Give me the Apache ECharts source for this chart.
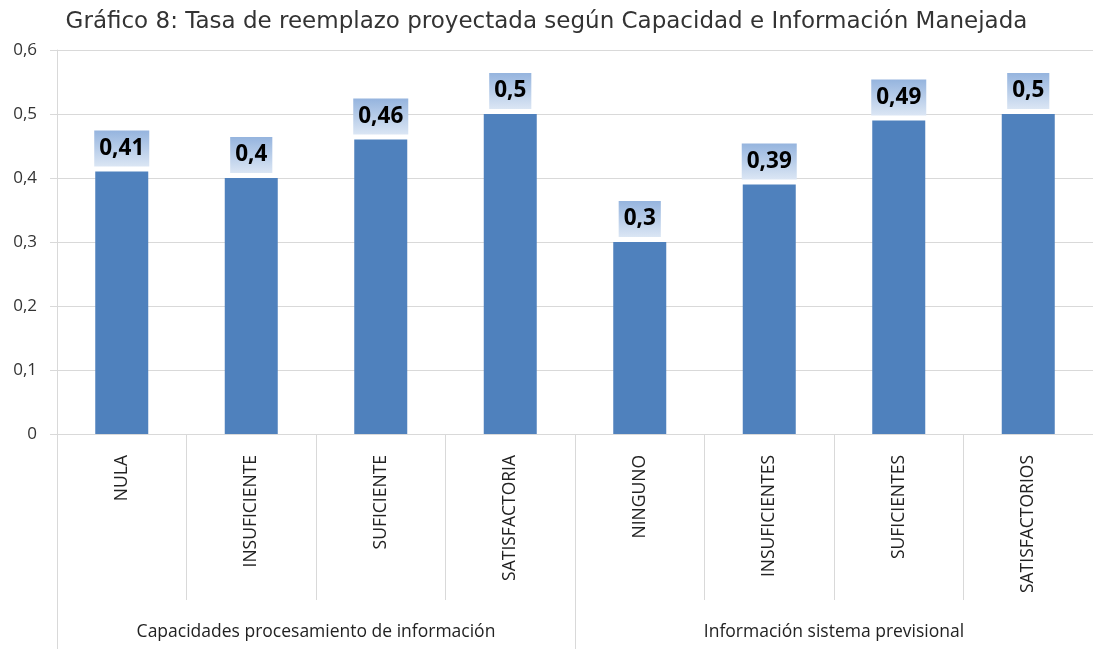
<!DOCTYPE html>
<html>
<head>
<meta charset="utf-8">
<script src="https://cdn.jsdelivr.net/npm/echarts@6/dist/echarts.min.js"></script>
<style>
  html, body { margin: 0; padding: 0; background: #fff; }
  #chart { width: 1093px; height: 649px; }
</style>
</head>
<body>
<div id="chart"></div>
<script>
const categories = ['NULA', 'INSUFICIENTE', 'SUFICIENTE', 'SATISFACTORIA',
  'NINGUNO', 'INSUFICIENTES', 'SUFICIENTES', 'SATISFACTORIOS']
const groups = ['Capacidades procesamiento de información', 'Información sistema previsional']
const values = [0.41, 0.4, 0.46, 0.5, 0.3, 0.39, 0.49, 0.5]
const yTicks = { min: 0, max: 0.6, interval: 0.1 }

const gridColor = '#d9d9d9'
const comma = v => String(Math.round(v * 100) / 100).replace('.', ',')

const chart = echarts.init(document.getElementById('chart'))
chart.setOption({
  animation: false,
  title: {
    text: 'Gráfico 8: Tasa de reemplazo proyectada según Capacidad e Información Manejada',
    left: 'center',
    top: 6,
    textStyle: {
      fontFamily: 'DejaVu Sans',
      fontSize: 23,
      fontWeight: 'normal',
      color: '#333'
    }
  },
  grid: {
    left: 57,
    top: 50,
    width: 1043,
    height: 384
  },
  xAxis: [{
    type: 'category',
    data: categories,
    axisLine: { show: true, lineStyle: { color: gridColor } },
    axisTick: { show: true, interval: 0, length: 166, lineStyle: { color: gridColor } },
    axisLabel: {
      interval: 0,
      rotate: 90,
      margin: 21,
      fontFamily: 'Open Sans',
      fontSize: 17.5,
      color: '#222'
    }
  }, {
    type: 'category',
    data: groups,
    position: 'bottom',
    offset: 166,
    axisLine: { show: false },
    axisTick: { show: true, interval: 0, length: 50, lineStyle: { color: gridColor } },
    axisLabel: {
      interval: 0,
      margin: 23,
      fontFamily: 'Open Sans',
      fontSize: 17.5,
      color: '#222'
    }
  }],
  yAxis: {
    type: 'value',
    min: yTicks.min,
    max: yTicks.max,
    interval: yTicks.interval,
    axisLine: { show: true, lineStyle: { color: gridColor } },
    axisTick: { show: true, length: 7, lineStyle: { color: gridColor } },
    splitLine: { lineStyle: { color: gridColor } },
    axisLabel: {
      margin: 20,
      fontFamily: 'Open Sans',
      fontSize: 17,
      color: '#333',
      formatter: comma
    }
  },
  series: [{
    type: 'bar',
    data: values,
    barWidth: 53,
    itemStyle: { color: '#4f81bd' },
    label: {
      show: true,
      position: 'top',
      distance: 5,
      formatter: p => comma(p.value),
      fontFamily: 'Open Sans',
      fontWeight: 'bold',
      fontSize: 22.5,
      lineHeight: 24,
      color: '#000',
      padding: [6, 5, 6, 5],
      backgroundColor: new echarts.graphic.LinearGradient(0, 0, 0, 1, [
        { offset: 0, color: '#95b4de' },
        { offset: 1, color: '#dbe6f4' }
      ])
    }
  }]
})
</script>
</body>
</html>
